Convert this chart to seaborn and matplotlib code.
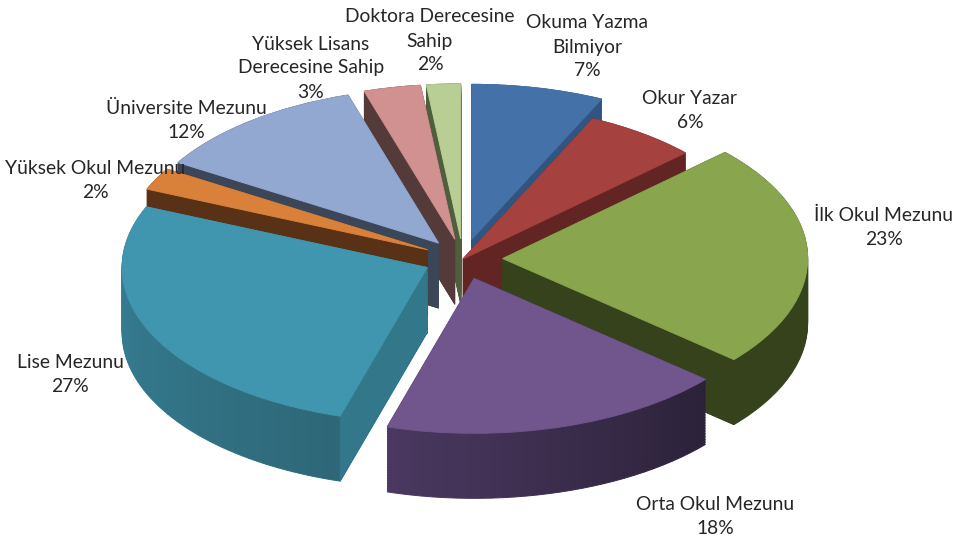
import numpy as np
import matplotlib
matplotlib.use("Agg")
import matplotlib.pyplot as plt
import seaborn as sns

# --- chart data ---
CATEGORIES = ["Okuma Yazma\nBilmiyor", "Okur Yazar", "İlk Okul Mezunu", "Orta Okul Mezunu",
              "Lise Mezunu", "Yüksek Okul Mezunu", "Üniversite Mezunu",
              "Yüksek Lisans\nDerecesine Sahip", "Doktora Derecesine\nSahip"]
PERCENT_LABELS = [7, 6, 23, 18, 27, 2, 12, 3, 2]
VALUES = [7.0, 6.0, 23.3, 18.3, 26.8, 2.3, 11.5, 3.0, 1.8]
EXPLODE = [0.13, 0.0, 0.13, 0.13, 0.13, 0.13, 0.13, 0.13, 0.13]

# --- styles ---
TOP = ["#4472A8", "#A5413F", "#89A54E", "#71558D", "#4095AF", "#D9813A", "#92A8D0", "#D09190", "#B9CE94"]
RIM_START = ["#305580", "#632524", "#36421C", "#2C2239", "#2E6878", "#583116", "#3B4658", "#553A3A", "#4F5F3E"]
RIM_END = ["#305580", "#632524", "#36421C", "#4A3860", "#38849B", "#583116", "#3B4658", "#553A3A", "#4F5F3E"]
FACE = ["#305580", "#632524", "#36421C", "#3A2C4E", "#32778A", "#583116", "#3B4658", "#553A3A", "#4F5F3E"]
DRAW_ORDER = [8, 0, 7, 6, 5, 1, 2, 4, 3]
LABEL_XY = [(587, 47), (690, 110), (884, 227), (715, 517), (70, 375), (95, 181), (186, 120), (311, 68), (430, 41)]
TEXT_COLOR = "#262626"

W, H = 968, 539
CX, CY, RX, RY, DEPTH_PX = 463, 259, 305, 155, 65
LAYERS = 42

sns.set_theme(style="white")
plt.rcParams["font.family"] = ["Lato", "DejaVu Sans"]

fig = plt.figure(figsize=(W / 100, H / 100), dpi=100, facecolor="white")
ax = fig.add_axes([0, 0, 1, 1])

depth = DEPTH_PX / RY
total = sum(VALUES)
ends = np.cumsum(VALUES) / total
starts = ends - np.array(VALUES) / total


def draw_pie(fracs, start_frac, center, colors):
    wedges, _ = ax.pie(fracs, colors=colors, startangle=90 - start_frac * 360, counterclock=False,
                       center=center, radius=1, normalize=False,
                       wedgeprops={"linewidth": 0.7})
    for w in wedges:
        w.set_edgecolor(w.get_facecolor())


for i in DRAW_ORDER:
    s, e = starts[i], ends[i]
    mid = 2 * np.pi * (s + e) / 2
    cx = EXPLODE[i] * np.sin(mid)
    cy = EXPLODE[i] * np.cos(mid)
    gradient = RIM_START[i] != RIM_END[i]
    n = 30 if gradient else 1
    colors = sns.blend_palette([RIM_START[i], RIM_END[i]], n) if gradient else [RIM_START[i]]
    fracs = [(e - s) / n] * n
    for d in np.linspace(depth, 0, LAYERS):
        draw_pie(fracs, s, (cx, cy - d), colors)
    # flat radial side faces that turn towards the viewer
    for frac, visible in ((s, np.sin(2 * np.pi * s) < 0), (e, np.sin(2 * np.pi * e) > 0)):
        if visible:
            px = cx + np.sin(2 * np.pi * frac)
            py = cy + np.cos(2 * np.pi * frac)
            ax.fill([cx, px, px, cx], [cy, py, py - depth, cy - depth],
                    color=FACE[i], linewidth=0.5)
    draw_pie([e - s], s, (cx, cy), [TOP[i]])

ax.set_aspect("auto")
ax.set_xlim(-CX / RX, (W - CX) / RX)
ax.set_ylim((CY - H) / RY, CY / RY)
ax.axis("off")

for name, val, (x, y) in zip(CATEGORIES, PERCENT_LABELS, LABEL_XY):
    ax.text(x / W, 1 - y / H, f"{name}\n{val}%", transform=ax.transAxes, ha="center", va="center",
            fontsize=13.9, color=TEXT_COLOR, linespacing=1.5, zorder=10)

fig.savefig("out.png", dpi=100, facecolor="white")
